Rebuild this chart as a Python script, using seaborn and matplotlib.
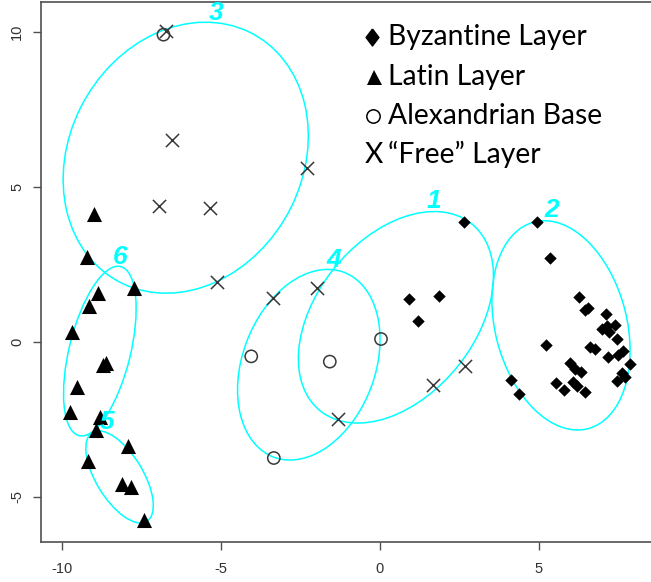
import numpy as np
import pandas as pd
import matplotlib
matplotlib.use("Agg")
import matplotlib.pyplot as plt
from matplotlib.patches import Ellipse
from matplotlib.lines import Line2D
import seaborn as sns

# ---------------- data ----------------
byz_x = [2.66, 0.93, 1.86, 1.21, 4.94, 5.36, 6.27, 6.44, 6.56, 7.12, 6.98, 7.14, 7.40, 7.22,
         7.45, 5.23, 6.62, 6.77, 7.66, 7.50, 7.19, 5.99, 6.14, 6.32, 7.87, 7.61, 7.71, 7.47,
         4.13, 4.37, 5.55, 5.78, 6.09, 6.20, 6.46]
byz_y = [3.87, 1.37, 1.49, 0.67, 3.87, 2.70, 1.43, 1.02, 1.09, 0.91, 0.41, 0.52, 0.55, 0.30,
         0.09, -0.10, -0.18, -0.24, -0.31, -0.42, -0.50, -0.70, -0.88, -0.99, -0.72, -1.02, -1.15, -1.28,
         -1.22, -1.69, -1.34, -1.55, -1.31, -1.42, -1.61]

latin_x = [-8.98, -9.19, -7.74, -8.85, -9.14, -9.69, -8.61, -8.69, -9.52, -9.73, -8.79,
           -8.93, -7.91, -9.16, -8.09, -7.83, -7.41]
latin_y = [4.13, 2.72, 1.73, 1.59, 1.16, 0.33, -0.67, -0.74, -1.45, -2.25, -2.42,
           -2.84, -3.35, -3.85, -4.58, -4.69, -5.76]

alex_x = [-6.80, -4.04, -1.57, 0.04, -3.33]
alex_y = [9.91, -0.47, -0.64, 0.09, -3.75]

free_x = [-6.73, -6.52, -6.94, -5.34, -2.30, -5.13, -3.35, -1.97, -1.32, 1.66, 2.67]
free_y = [10.02, 6.50, 4.38, 4.33, 5.61, 1.93, 1.41, 1.75, -2.49, -1.40, -0.79]

# cluster ellipses (centre, full axes, rotation in degrees) and their labels
ell_label = ["1", "2", "3", "4", "5", "6"]
ell_cx = [0.51, 5.70, -6.10, -2.23, -8.18, -8.80]
ell_cy = [0.79, 0.53, 5.94, -0.74, -4.36, -0.30]
ell_w = [7.69, 6.88, 9.04, 6.36, 3.34, 5.61]
ell_h = [5.01, 4.14, 7.36, 4.18, 1.48, 1.93]
ell_angle = [52.6, -76.1, 64.1, 70.3, -59.5, 76.6]
lab_x = [1.69, 5.41, -5.13, -1.46, -8.58, -8.17]
lab_y = [4.53, 4.26, 10.61, 2.65, -2.58, 2.75]

x_ticks = [-10, -5, 0, 5]
y_ticks = [-5, 0, 5, 10]

legend_symbols = ["diamond", "triangle", "circle", "X"]
legend_labels = ["Byzantine Layer", "Latin Layer", "Alexandrian Base", "\u201cFree\u201d Layer"]

# ---------------- figure ----------------
sns.set_theme(style="ticks")
plt.rcParams["font.family"] = ["Liberation Sans", "DejaVu Sans"]

W, H = 651, 582
fig = plt.figure(figsize=(W / 100, H / 100), dpi=100)
fig.patch.set_facecolor("white")

ax_left, ax_bottom_px, ax_top_px = 40.7, 542.3, 1.5
ax = fig.add_axes([ax_left / W, 1 - ax_bottom_px / H, 1 - ax_left / W,
                   (ax_bottom_px - ax_top_px) / H])
ax.set_facecolor("white")

# ellipses
for cx, cy, w, h, a in zip(ell_cx, ell_cy, ell_w, ell_h, ell_angle):
    ax.add_patch(Ellipse((cx, cy), w, h, angle=a, fill=False,
                         edgecolor="#00FFFF", linewidth=1.1, zorder=2))

gray = "#383838"
sns.scatterplot(x=byz_x, y=byz_y, marker="D", s=40, color="black",
                edgecolor="black", linewidth=0, ax=ax, zorder=3)
sns.scatterplot(x=latin_x, y=latin_y, marker="^", s=118, color="black",
                edgecolor="black", linewidth=0, ax=ax, zorder=3)
sns.scatterplot(x=alex_x, y=alex_y, marker="o", s=78, color=gray,
                facecolor="none", edgecolor=gray, linewidth=1.1, ax=ax, zorder=3)
sns.scatterplot(x=free_x, y=free_y, marker="x", s=90, color=gray,
                linewidth=1.1, ax=ax, zorder=3)

for lab, lx, ly in zip(ell_label, lab_x, lab_y):
    ax.text(lx, ly, lab, color="#00FFFF", fontsize=19, fontweight="bold",
            fontstyle="italic", ha="center", va="center", zorder=4,
            family=["Liberation Sans", "DejaVu Sans"])

ax.set_xlim(-10.66, 8.53)
ax.set_ylim(-6.47, 10.98)
ax.set_xticks(x_ticks)
ax.set_yticks(y_ticks)
ax.set_xticklabels([str(t) for t in x_ticks])
ax.set_yticklabels([str(t) for t in y_ticks])
ax.set_xlabel("")
ax.set_ylabel("")

spine_col = "#505050"
for side in ["left", "bottom", "top"]:
    ax.spines[side].set_visible(True)
    ax.spines[side].set_color(spine_col)
    ax.spines[side].set_linewidth(1.2)
ax.spines["right"].set_visible(False)

ax.tick_params(axis="both", direction="out", length=6, width=1.0, color=spine_col,
               labelsize=10.5, labelcolor="#303030", bottom=True, left=True)
ax.tick_params(axis="x", pad=8)
ax.tick_params(axis="y", pad=6)
for lab in ax.get_yticklabels():
    lab.set_rotation(90)
    lab.set_va("center")

# ---------------- text legend ----------------
def fx(px):
    return px / W

def fy(py):
    return 1 - py / H

baselines = [45.0, 84.5, 124.0, 163.0]
legend_font = ["Lato", "DejaVu Sans"]
legend_size = 20.3
for sym, lab, base in zip(legend_symbols, legend_labels, baselines):
    fig.text(fx(388), fy(base), lab, fontsize=legend_size, color="black",
             family=legend_font, ha="left", va="baseline")

diamond_marker = [(0, 1), (0.76, 0), (0, -1), (-0.76, 0), (0, 1)]
fig.add_artist(Line2D([fx(371.7)], [fy(36.7)], marker=diamond_marker, markersize=12.2,
                      color="black", linestyle="none", transform=fig.transFigure))
fig.add_artist(Line2D([fx(374)], [fy(77.3)], marker="^", markersize=10.8,
                      color="black", markeredgewidth=0, linestyle="none",
                      transform=fig.transFigure))
fig.add_artist(Line2D([fx(372.5)], [fy(115.8)], marker="o", markersize=9.6,
                      markerfacecolor="none", markeredgecolor="black",
                      markeredgewidth=1.1, linestyle="none", transform=fig.transFigure))
fig.text(fx(365), fy(163.0), "X", fontsize=legend_size, color="black",
         family=legend_font, ha="left", va="baseline")

fig.savefig("out.png", dpi=100, facecolor="white")
